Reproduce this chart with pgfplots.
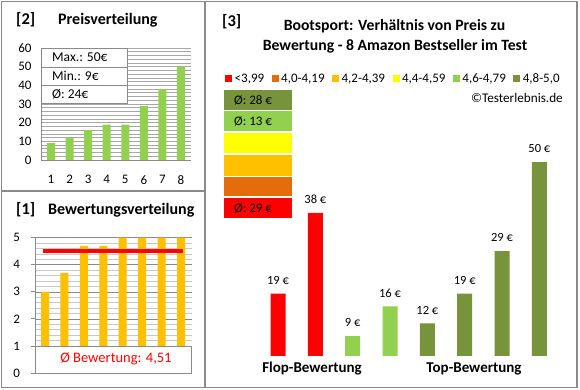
\documentclass[border=0pt]{standalone}
\usepackage{fontspec}
\setmainfont{Carlito}
\usepackage{pgfplots}
\pgfplotsset{compat=1.18}
\definecolor{frame}{HTML}{8A8A8A}
\definecolor{cred}{HTML}{FF0000}
\definecolor{cdorange}{HTML}{E46C0A}
\definecolor{corange}{HTML}{FFC000}
\definecolor{cyellow}{HTML}{FFFF00}
\definecolor{clgreen}{HTML}{92D050}
\definecolor{colive}{HTML}{77933C}
\definecolor{gridc}{HTML}{A6A6A6}
\definecolor{gridm}{HTML}{C8C8C8}
\newcommand{\fs}[1]{\fontsize{#1}{#1}\selectfont}
\newcommand{\lsq}[1]{\textcolor{#1}{\rule[0.4pt]{7pt}{7pt}}\hspace{2.5pt}}
\begin{document}
\begin{tikzpicture}[x=1pt,y=1pt]
\fill[white] (0,0) rectangle (580,390);
% ---------------- panel 2: Preisverteilung
\begin{axis}[at={(41pt,230pt)}, anchor=south west, scale only axis,
  width=150pt, height=112pt,
  xmin=0.46, xmax=8.54, ymin=0, ymax=60,
  ytick={0,10,...,60}, xtick={1,...,8},
  minor y tick num=4,
  ymajorgrids, yminorgrids,
  major grid style={gridc, line width=0.6pt},
  minor grid style={gridc, line width=0.6pt},
  axis x line*=bottom, axis y line*=left,
  axis line style={frame, line width=0.8pt, -},
  major tick length=0pt, minor tick length=0pt,
  /pgf/number format/assume math mode=true,
  ticklabel style={font=\fs{13}},
  yticklabel style={xshift=-6pt},
  xticklabel style={yshift=-12pt},
  ybar, bar width=8pt, clip=false]
\addplot[fill=clgreen, draw=none, bar shift=0pt] coordinates {(1,9) (2,12) (3,16) (4,19) (5,19) (6,29) (7,38) (8,50)};
\draw[frame, line width=0.8pt, fill=white] (axis cs:0.46,30.5) rectangle (axis cs:5.09,60);
\draw[frame, line width=0.8pt] (axis cs:0.46,49.8) -- (axis cs:5.09,49.8);
\draw[frame, line width=0.8pt] (axis cs:0.46,40.2) -- (axis cs:5.09,40.2);
\node[anchor=west, font=\fs{13.5}, inner sep=0pt] at (axis cs:1.05,54.9) {Max.: 50€};
\node[anchor=west, font=\fs{13.5}, inner sep=0pt] at (axis cs:1.05,45.0) {Min.: 9€};
\node[anchor=west, font=\fs{13.5}, inner sep=0pt] at (axis cs:1.05,35.4) {Ø: 24€};
\end{axis}
% ---------------- panel 1: Bewertungsverteilung
\begin{axis}[at={(35pt,17pt)}, anchor=south west, scale only axis,
  width=157pt, height=135.3pt,
  xmin=0.485, xmax=8.566, ymin=0, ymax=5,
  ytick={0,...,5}, xtick=\empty,
  minor y tick num=4,
  ymajorgrids, yminorgrids,
  major grid style={frame, line width=0.6pt},
  minor grid style={gridm, line width=0.6pt},
  axis x line*=bottom, axis y line*=left,
  axis line style={frame, line width=0.8pt, -},
  tick align=outside, major tick length=4.5pt, minor tick length=0pt,
  major tick style={frame, line width=0.8pt},
  /pgf/number format/assume math mode=true,
  ticklabel style={font=\fs{13}},
  yticklabel style={xshift=-7pt},
  ybar, bar width=8pt, clip=false]
\addplot[fill=corange, draw=none, bar shift=0pt] coordinates {(1,3.0) (2,3.7) (3,4.7) (4,4.7) (5,5) (6,5) (7,5) (8,5)};
\addplot[sharp plot, cred, line width=3.8pt, no marks] coordinates {(0.9,4.51) (8.1,4.51)};
\draw[frame, line width=0.8pt, fill=white] (axis cs:0.485,0) rectangle (axis cs:8.52,1);
\node[font=\fs{14.5}, text=cred] at (axis cs:4.65,0.52) {Ø Bewertung: 4,51};
\end{axis}
% ---------------- panel 3
\begin{axis}[at={(240.7pt,34pt)}, anchor=south west, scale only axis,
  width=336pt, height=215.2pt,
  xmin=0, xmax=9, ymin=4.3, ymax=55,
  hide axis, clip=false,
  /pgf/number format/assume math mode=true,
  ybar, bar width=15pt,
  nodes near coords={\pgfmathprintnumber{\pgfplotspointmeta} €},
  every node near coord/.append style={font=\fs{12.5}, inner sep=0pt, yshift=9pt}]
\addplot[fill=cred, draw=none, bar shift=0pt] coordinates {(1,19) (2,38)};
\addplot[fill=clgreen, draw=none, bar shift=0pt] coordinates {(3,9) (4,16)};
\addplot[fill=colive, draw=none, bar shift=0pt] coordinates {(5,12) (6,19) (7,29) (8,50)};
\node[font=\bfseries\fs{15}] at (axis cs:1.91,1.24) {Flop-Bewertung};
\node[font=\bfseries\fs{15}] at (axis cs:6.25,1.24) {Top-Bewertung};
\end{axis}
% ---------------- frames
\draw[frame, line width=1.3pt] (1.5,2.5) rectangle (577,388.5);
\draw[frame, line width=1.3pt] (205,2.5) -- (205,388.5);
\draw[frame, line width=1.3pt] (1.5,199) -- (205,199);
% ---------------- titles
\node[anchor=west, font=\bfseries\fs{16.5}, inner sep=0pt] at (16,370) {[2]};
\node[anchor=west, font=\bfseries\fs{16}, inner sep=0pt] at (58,370) {Preisverteilung};
\node[anchor=west, font=\bfseries\fs{16.5}, inner sep=0pt] at (16,180) {[1]};
\node[anchor=west, font=\bfseries\fs{16}, inner sep=0pt] at (48,180) {Bewertungsverteilung};
\node[anchor=west, font=\bfseries\fs{16.5}, inner sep=0pt] at (222,368) {[3]};
\node[font=\bfseries\fs{15.7}, inner sep=0pt] at (394.5,363.3) {Bootsport: Verhältnis von Preis zu};
\node[font=\bfseries\fs{15.7}, inner sep=0pt] at (395,344) {Bewertung - 8 Amazon Bestseller im Test};
% ---------------- legend
\node[anchor=base west, font=\fs{13}, inner sep=0pt] at (225,307.5) {%
\lsq{cred}<3,99\hspace{7.5pt}%
\lsq{cdorange}4,0-4,19\hspace{7.5pt}%
\lsq{corange}4,2-4,39\hspace{7.5pt}%
\lsq{cyellow}4,4-4,59\hspace{7.5pt}%
\lsq{clgreen}4,6-4,79\hspace{7.5pt}%
\lsq{colive}4,8-5,0};
\node[anchor=base east, font=\fs{13.2}, inner sep=0pt] at (563,287.5) {©Testerlebnis.de};
% ---------------- colour boxes
\fill[colive] (224,280) rectangle (292,300);
\fill[clgreen] (224,258.5) rectangle (292,278.5);
\fill[cyellow] (224,236.5) rectangle (292,257);
\fill[corange] (224,214) rectangle (292,234.5);
\fill[cdorange] (224,194) rectangle (292,213);
\fill[cred] (224,172) rectangle (292,191.5);
\node[anchor=west, font=\fs{13}, inner sep=0pt] at (234,290) {Ø: 28 €};
\node[anchor=west, font=\fs{13}, inner sep=0pt] at (234,268.5) {Ø: 13 €};
\node[anchor=west, font=\fs{13}, inner sep=0pt] at (234,181.5) {Ø: 29 €};
\end{tikzpicture}
\end{document}
